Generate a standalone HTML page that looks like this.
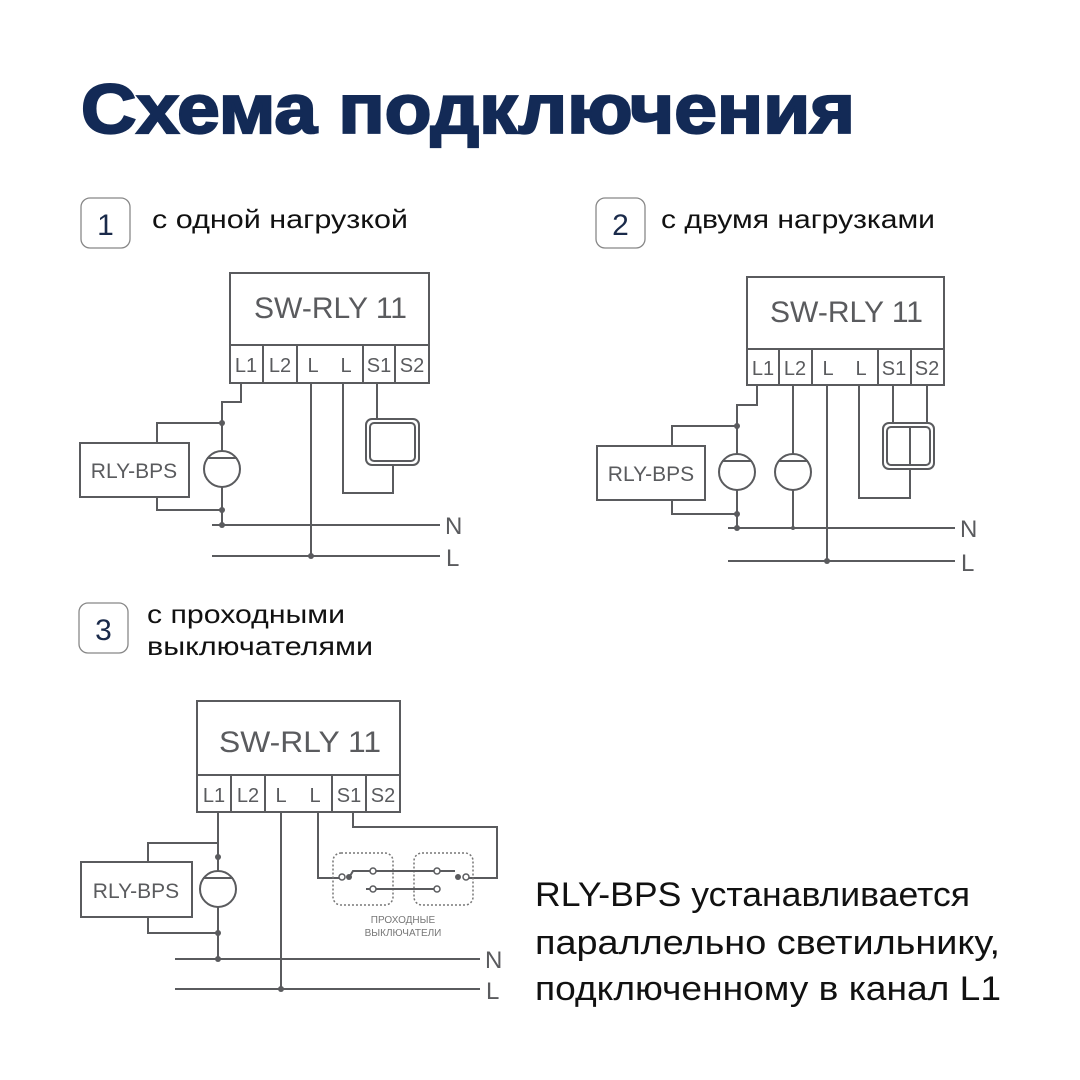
<!DOCTYPE html>
<html><head><meta charset="utf-8"><style>
html,body{margin:0;padding:0;background:#fff;}
svg{display:block;}
</style></head><body>
<svg width="1080" height="1080" viewBox="0 0 1080 1080" xmlns="http://www.w3.org/2000/svg">
<rect width="1080" height="1080" fill="#fff"/>
<text x="81" y="133" font-family="'Liberation Sans',sans-serif" font-weight="bold" font-size="70" fill="#132a56" stroke="#132a56" stroke-width="2.2" textLength="774" lengthAdjust="spacingAndGlyphs">Схема подключения</text>

<g font-family="'Liberation Sans','DejaVu Sans',sans-serif" fill="#111">
<rect x="81" y="198" width="49" height="50" rx="9" fill="none" stroke="#888" stroke-width="1.3"/>
<text x="105.5" y="235" font-size="30" text-anchor="middle" fill="#1a2a4a">1</text>
<text x="152" y="228" font-size="26" textLength="256" lengthAdjust="spacingAndGlyphs">с одной нагрузкой</text>
<rect x="596" y="198" width="49" height="50" rx="9" fill="none" stroke="#888" stroke-width="1.3"/>
<text x="620.5" y="235" font-size="30" text-anchor="middle" fill="#1a2a4a">2</text>
<text x="661" y="228" font-size="26" textLength="274" lengthAdjust="spacingAndGlyphs">с двумя нагрузками</text>
<rect x="79" y="603" width="49" height="50" rx="9" fill="none" stroke="#888" stroke-width="1.3"/>
<text x="103.5" y="640" font-size="30" text-anchor="middle" fill="#1a2a4a">3</text>
<text x="147" y="623" font-size="26" textLength="198" lengthAdjust="spacingAndGlyphs">с проходными</text>
<text x="147" y="655" font-size="26" textLength="226" lengthAdjust="spacingAndGlyphs">выключателями</text>
<text x="535" y="906" font-size="34" textLength="435" lengthAdjust="spacingAndGlyphs">RLY-BPS устанавливается</text>
<text x="535" y="954" font-size="34" textLength="465" lengthAdjust="spacingAndGlyphs">параллельно светильнику,</text>
<text x="535" y="1000" font-size="34" textLength="466" lengthAdjust="spacingAndGlyphs">подключенному в канал L1</text>
</g>

<g stroke="#5a5b5e" stroke-width="2" fill="none" font-family="'Liberation Sans',sans-serif">
<!-- Diagram 1 -->
<rect x="230" y="273" width="199" height="110"/>
<line x1="230" y1="345" x2="429" y2="345"/>
<line x1="263" y1="345" x2="263" y2="383"/><line x1="297" y1="345" x2="297" y2="383"/>
<line x1="363" y1="345" x2="363" y2="383"/><line x1="395" y1="345" x2="395" y2="383"/>
<polyline points="241,383 241,402 222,402 222,525"/>
<polyline points="157,443 157,423 222,423"/>
<polyline points="157,497 157,510 222,510"/>
<rect x="80" y="443" width="109" height="54" fill="#fff"/>
<circle cx="222" cy="469" r="18" fill="#fff"/>
<line x1="207" y1="458" x2="237" y2="458"/>
<line x1="311" y1="383" x2="311" y2="556"/>
<polyline points="343,383 343,493 393,493 393,465"/>
<line x1="377" y1="383" x2="377" y2="419"/>
<rect x="366" y="419" width="53" height="46" rx="6"/>
<rect x="370" y="423" width="45" height="38" rx="4"/>
<line x1="212" y1="525" x2="440" y2="525"/>
<line x1="212" y1="556" x2="440" y2="556"/>

<!-- Diagram 2 -->
<rect x="747" y="277" width="197" height="108"/>
<line x1="747" y1="349" x2="944" y2="349"/>
<line x1="779" y1="349" x2="779" y2="385"/><line x1="812" y1="349" x2="812" y2="385"/>
<line x1="878" y1="349" x2="878" y2="385"/><line x1="911" y1="349" x2="911" y2="385"/>
<polyline points="757,385 757,405 737,405 737,528"/>
<polyline points="672,446 672,426 737,426"/>
<polyline points="672,500 672,514 737,514"/>
<rect x="597" y="446" width="108" height="54" fill="#fff"/>
<circle cx="737" cy="472" r="18" fill="#fff"/>
<line x1="722" y1="461" x2="752" y2="461"/>
<line x1="793" y1="385" x2="793" y2="528"/>
<circle cx="793" cy="472" r="18" fill="#fff"/>
<line x1="778" y1="461" x2="808" y2="461"/>
<line x1="827" y1="385" x2="827" y2="561"/>
<polyline points="859,385 859,498 910,498 910,469"/>
<line x1="893" y1="385" x2="893" y2="423"/>
<line x1="927" y1="385" x2="927" y2="423"/>
<rect x="883" y="423" width="51" height="46" rx="6"/>
<rect x="887" y="427" width="43" height="38" rx="4"/>
<line x1="910" y1="427" x2="910" y2="465"/>
<line x1="728" y1="528" x2="955" y2="528"/>
<line x1="728" y1="561" x2="955" y2="561"/>

<!-- Diagram 3 -->
<rect x="197" y="701" width="203" height="111"/>
<line x1="197" y1="775" x2="400" y2="775"/>
<line x1="231" y1="775" x2="231" y2="812"/><line x1="265" y1="775" x2="265" y2="812"/>
<line x1="332" y1="775" x2="332" y2="812"/><line x1="366" y1="775" x2="366" y2="812"/>
<line x1="218" y1="812" x2="218" y2="959"/>
<polyline points="148,862 148,843 218,843"/>
<polyline points="148,917 148,933 218,933"/>
<rect x="81" y="862" width="111" height="55" fill="#fff"/>
<circle cx="218" cy="889" r="18" fill="#fff"/>
<line x1="203" y1="878" x2="233" y2="878"/>
<line x1="281" y1="812" x2="281" y2="989"/>
<polyline points="318,812 318,878 340,878"/>
<polyline points="353,812 353,827 497,827 497,878 467,878"/>
<g stroke-dasharray="2,2" stroke-width="1.5" stroke="#777">
<rect x="333" y="853" width="60" height="52" rx="8"/>
<rect x="414" y="853" width="59" height="52" rx="8"/>
</g>
<polyline points="350,876 353,871 437,871"/>
<line x1="366" y1="889" x2="440" y2="889"/>
<line x1="437" y1="871" x2="455" y2="871"/>
<line x1="175" y1="959" x2="480" y2="959"/>
<line x1="175" y1="989" x2="480" y2="989"/>
</g>
<g fill="#5a5b5e">
<circle cx="222" cy="423" r="3"/><circle cx="222" cy="510" r="3"/><circle cx="222" cy="525" r="3"/><circle cx="311" cy="556" r="3"/>
<circle cx="737" cy="426" r="3"/><circle cx="737" cy="514" r="3"/><circle cx="737" cy="528" r="3"/><circle cx="793" cy="528" r="2"/><circle cx="827" cy="561" r="3"/>
<circle cx="218" cy="857" r="3"/><circle cx="218" cy="933" r="3"/><circle cx="218" cy="959" r="3"/><circle cx="281" cy="989" r="3"/>
<circle cx="349" cy="877" r="3"/><circle cx="458" cy="877" r="3"/>
</g>
<g fill="#fff" stroke="#5a5b5e" stroke-width="1.5">
<circle cx="342" cy="877" r="3"/><circle cx="466" cy="877" r="3"/>
<circle cx="373" cy="871" r="3"/><circle cx="437" cy="871" r="3"/>
<circle cx="373" cy="889" r="3"/><circle cx="437" cy="889" r="3"/>
</g>
<g fill="#5a5b5e" font-family="'Liberation Sans',sans-serif">
<text x="254" y="318" font-size="30" textLength="153" lengthAdjust="spacingAndGlyphs">SW-RLY 11</text>
<text x="770" y="322" font-size="30" textLength="153" lengthAdjust="spacingAndGlyphs">SW-RLY 11</text>
<text x="219" y="752" font-size="30" textLength="162" lengthAdjust="spacingAndGlyphs">SW-RLY 11</text>
<g font-size="20" text-anchor="middle">
<text x="246" y="372">L1</text><text x="280" y="372">L2</text><text x="313" y="372">L</text><text x="346" y="372">L</text><text x="379" y="372">S1</text><text x="412" y="372">S2</text>
<text x="763" y="375">L1</text><text x="795" y="375">L2</text><text x="828" y="375">L</text><text x="861" y="375">L</text><text x="894" y="375">S1</text><text x="927" y="375">S2</text>
<text x="214" y="802">L1</text><text x="248" y="802">L2</text><text x="281" y="802">L</text><text x="315" y="802">L</text><text x="349" y="802">S1</text><text x="383" y="802">S2</text>
</g>
<g font-size="21" text-anchor="middle">
<text x="134" y="478">RLY-BPS</text>
<text x="651" y="481">RLY-BPS</text>
<text x="136" y="898">RLY-BPS</text>
</g>
<g font-size="24">
<text x="445" y="534">N</text><text x="446" y="566">L</text>
<text x="960" y="537">N</text><text x="961" y="571">L</text>
<text x="485" y="968">N</text><text x="486" y="999">L</text>
</g>
<text x="403" y="923" font-size="10" text-anchor="middle" fill="#777">ПРОХОДНЫЕ</text>
<text x="403" y="936" font-size="10" text-anchor="middle" fill="#777">ВЫКЛЮЧАТЕЛИ</text>
</g>
</svg>
</body></html>
